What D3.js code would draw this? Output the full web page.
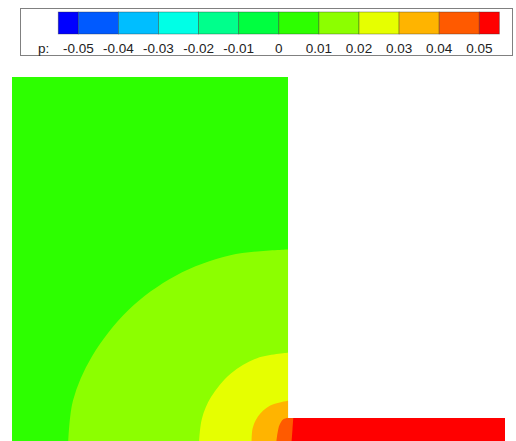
<!DOCTYPE html>
<html>
<head>
<meta charset="utf-8">
<script src="https://cdn.jsdelivr.net/npm/d3@7"></script>
<style>
  html, body { margin: 0; padding: 0; background: #fff; }
  svg { display: block; }
  text { font-family: "Liberation Sans", Arial, sans-serif; fill: #222; }
</style>
</head>
<body>
<svg id="chart" width="516" height="441"></svg>
<script>
// Pressure contour levels and the colour of each band (below, between, above)
const levels = [-0.05, -0.04, -0.03, -0.02, -0.01, 0, 0.01, 0.02, 0.03, 0.04, 0.05];
const levelLabels = ["-0.05", "-0.04", "-0.03", "-0.02", "-0.01", "0", "0.01", "0.02", "0.03", "0.04", "0.05"];
const bandColors = ["#0000ff", "#005aff", "#00beff", "#00ffe6", "#00ff8c", "#00ff40",
                    "#2dff00", "#8cff00", "#e6ff00", "#ffb400", "#ff5a00", "#ff0000"];
const variableName = "p:";

// Flow domain (mm): a tall block and a thin outlet channel, origin at the inner corner
const blockX = [-100, 0];
const blockY = [-8.3, 123.6];
const channelX = [0, 78.6];
const channelY = [-8.3, 0];

// Iso-lines of p (x, y in mm), traced from the block's right wall down to the bottom
const iso001 = [[0, 61.1], [-20.9, 59.0], [-40.7, 51.6], [-57.9, 39.1], [-71.1, 22.2],
                [-77.9, 6.4], [-79.6, -8.3]];
const iso002 = [[0, 23.7], [-11.0, 21.8], [-20.7, 16.2], [-27.9, 7.6], [-31.2, -0.2], [-32.2, -8.3]];
const iso003 = [[0, 6.3], [-6.6, 4.5], [-10.9, 0.6], [-12.8, -3.6], [-13.2, -8.3]];
const iso004 = [[0, 0], [-1.8, -0.5], [-3.1, -2.5], [-3.8, -5.4], [-4.2, -8.3]];
const iso005 = [[1.9, 0], [1.6, -4.3], [1.3, -8.3]];

// Each iso-line bounds the region of higher pressure towards the corner
const isoRegions = [
  { line: iso001, band: 7 },
  { line: iso002, band: 8 },
  { line: iso003, band: 9 },
  { line: iso004, band: 10 },
  { line: iso005, band: 11 }
];

const svg = d3.select("#chart");

// ---------- colour legend ----------
const legend = svg.append("g");
legend.append("rect")
  .attr("x", 20.5).attr("y", 8.5).attr("width", 492).attr("height", 47)
  .attr("fill", "#fff").attr("stroke", "#808080").attr("stroke-width", 1);

const lx = d3.scaleLinear().domain([-0.05, 0.05]).range([78.3, 479.3]);
const halfStep = (levels[1] - levels[0]) / 2;
const bandEdges = [levels[0] - halfStep, ...levels, levels[levels.length - 1] + halfStep];

legend.selectAll("rect.swatch")
  .data(bandColors)
  .join("rect")
  .attr("class", "swatch")
  .attr("x", (d, i) => lx(bandEdges[i]))
  .attr("y", 12)
  .attr("width", (d, i) => lx(bandEdges[i + 1]) - lx(bandEdges[i]))
  .attr("height", 22)
  .attr("fill", d => d)
  .attr("stroke", "rgba(40,40,40,0.45)")
  .attr("stroke-width", 0.8);

legend.selectAll("text.tick")
  .data(levels)
  .join("text")
  .attr("class", "tick")
  .attr("x", d => lx(d))
  .attr("y", 52.5)
  .attr("text-anchor", "middle")
  .attr("font-size", 13.5)
  .text((d, i) => levelLabels[i]);

legend.append("text")
  .attr("x", 38)
  .attr("y", 52.5)
  .attr("font-size", 13.5)
  .text(variableName);

// ---------- contour field ----------
const x = d3.scaleLinear().domain([blockX[0], channelX[1]]).range([12, 505]);
const y = d3.scaleLinear().domain([blockY[0], blockY[1]]).range([441, 77]);

const domainPath =
  `M${x(blockX[0])},${y(blockY[1])}H${x(blockX[1])}V${y(channelY[1])}` +
  `H${x(channelX[1])}V${y(channelY[0])}H${x(blockX[0])}Z`;

svg.append("clipPath").attr("id", "flowDomain")
  .append("path").attr("d", domainPath);

const field = svg.append("g").attr("clip-path", "url(#flowDomain)");

// base band: 0 .. 0.01
field.append("path").attr("d", domainPath).attr("fill", bandColors[6]);

const isoLine = d3.line().x(d => x(d[0])).y(d => y(d[1])).curve(d3.curveCatmullRom.alpha(0.5));

field.selectAll("path.band")
  .data(isoRegions)
  .join("path")
  .attr("class", "band")
  .attr("d", r => {
    const first = r.line[0];
    const last = r.line[r.line.length - 1];
    const xr = x(channelX[1]) + 5;
    const yb = y(channelY[0]) + 5;
    return isoLine(r.line) +
      `L${x(last[0])},${yb}L${xr},${yb}L${xr},${y(first[1])}Z`;
  })
  .attr("fill", r => bandColors[r.band]);
</script>
</body>
</html>
